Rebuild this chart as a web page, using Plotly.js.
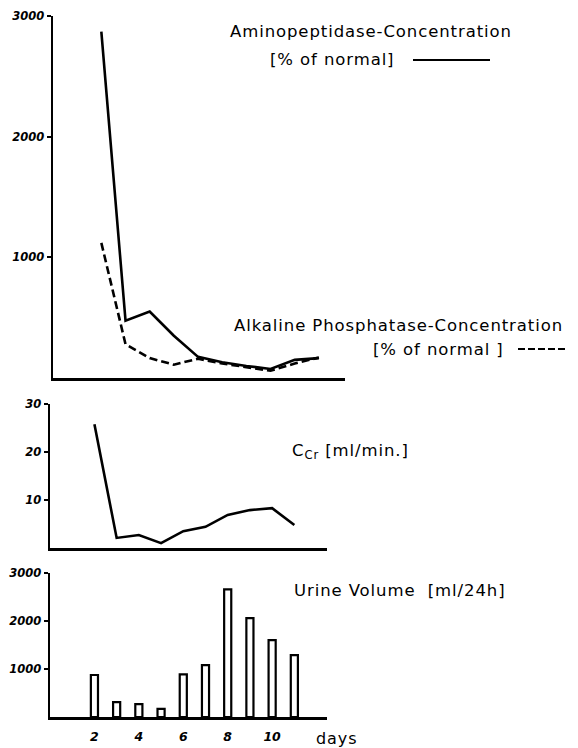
<!DOCTYPE html>
<html><head><meta charset="utf-8">
<script src="https://cdn.plot.ly/plotly-3.0.1.min.js"></script>
<style>html,body{margin:0;padding:0;background:#fff}#chart{width:578px;height:748px}
.annotation-text{letter-spacing:0.9px}</style>
</head><body><div id="chart"></div>
<script>
const days = [2, 3, 4, 5, 6, 7, 8, 9, 10, 11];
const aminopeptidase = [2870, 475, 550, 350, 175, 130, 100, 75, 150, 165];
const alkalinePhosphatase = [1120, 280, 165, 110, 160, 120, 90, 60, 120, 170];
const creatinineClearance = [25.8, 2.1, 2.7, 1.0, 3.5, 4.4, 6.9, 7.9, 8.3, 4.8];
const urineVolume = [875, 310, 270, 170, 890, 1080, 2660, 2060, 1600, 1290];
const xTickVals = [2, 4, 6, 8, 10];
const xTickText = ['2', '4', '6', '8', '10'];
const yTopTicks = [1000, 2000, 3000];
const yMidTicks = [10, 20, 30];
const yBotTicks = [1000, 2000, 3000];

const W = 578, H = 748;
const px = v => v / W;
const py = v => 1 - v / H;
const FONT = 'DejaVu Sans';
const tickFont = {family: FONT, size: 11.5, color: '#000', weight: 'bold', style: 'italic'};

const traces = [
  {x: days, y: aminopeptidase, type: 'scatter', mode: 'lines', xaxis: 'x', yaxis: 'y',
   line: {color: '#000', width: 2.6}},
  {x: days, y: alkalinePhosphatase, type: 'scatter', mode: 'lines', xaxis: 'x', yaxis: 'y',
   line: {color: '#000', width: 2.6, dash: '8px,4px'}},
  {x: days, y: creatinineClearance, type: 'scatter', mode: 'lines', xaxis: 'x2', yaxis: 'y2',
   line: {color: '#000', width: 2.6}},
  {x: days, y: urineVolume, type: 'bar', xaxis: 'x3', yaxis: 'y3', width: 0.32,
   marker: {color: '#fff', line: {color: '#000', width: 2.2}}}
];

const baseX = {showline: true, linecolor: '#000', linewidth: 2.5, showgrid: false, zeroline: false,
  ticks: '', showticklabels: false, fixedrange: true};
const baseY = {showline: true, linecolor: '#000', linewidth: 2.5, showgrid: false, zeroline: false,
  ticks: 'outside', ticklen: 4, tickwidth: 2, tickcolor: '#000', tickfont: tickFont, fixedrange: true};

const layout = {
  width: W, height: H,
  margin: {l: 0, r: 0, t: 0, b: 0},
  paper_bgcolor: '#fff', plot_bgcolor: 'rgba(0,0,0,0)',
  showlegend: false,
  xaxis: Object.assign({}, baseX, {domain: [px(53), px(345)], range: [0, 12.08], anchor: 'y'}),
  yaxis: Object.assign({}, baseY, {domain: [py(378), py(16)], range: [0, 3000], anchor: 'x',
    tickvals: yTopTicks, ticktext: yTopTicks.map(String)}),
  xaxis2: Object.assign({}, baseX, {domain: [px(50), px(327)], range: [0, 12.47], anchor: 'y2'}),
  yaxis2: Object.assign({}, baseY, {domain: [py(548), py(404)], range: [0, 30], anchor: 'x2',
    tickvals: yMidTicks, ticktext: yMidTicks.map(String)}),
  xaxis3: Object.assign({}, baseX, {domain: [px(50), px(327)], range: [0, 12.47], anchor: 'y3',
    showticklabels: true, tickvals: xTickVals, ticktext: xTickText, ticklabelstandoff: 6,
    tickfont: Object.assign({}, tickFont, {size: 12.5})}),
  yaxis3: Object.assign({}, baseY, {domain: [py(717), py(573)], range: [0, 3000], anchor: 'x3',
    tickvals: yBotTicks, ticktext: yBotTicks.map(String)}),
  annotations: [
    {text: 'Aminopeptidase-Concentration', x: px(228), y: py(32)},
    {text: '[% of normal]', x: px(268), y: py(60)},
    {text: 'Alkaline Phosphatase-Concentration', x: px(232), y: py(325)},
    {text: '[% of normal ]', x: px(371), y: py(349)},
    {text: 'C<sub>Cr</sub> [ml/min.]', x: px(290), y: py(451)},
    {text: 'Urine Volume  [ml/24h]', x: px(292), y: py(590)},
    {text: 'days', x: px(314), y: py(738), font: {family: FONT, size: 16, color: '#000'}}
  ].map(a => Object.assign({xref: 'paper', yref: 'paper', xanchor: 'left', yanchor: 'middle',
    showarrow: false, font: {family: FONT, size: 16.5, color: '#000'}}, a)),
  shapes: [
    {type: 'line', xref: 'paper', yref: 'paper', x0: px(413), x1: px(490), y0: py(60), y1: py(60),
     line: {color: '#000', width: 2}},
    {type: 'line', xref: 'paper', yref: 'paper', x0: px(518), x1: px(565), y0: py(349), y1: py(349),
     line: {color: '#000', width: 2, dash: '7px,3px'}}
  ]
};

Plotly.newPlot('chart', traces, layout, {staticPlot: true, displayModeBar: false});
</script></body></html>
